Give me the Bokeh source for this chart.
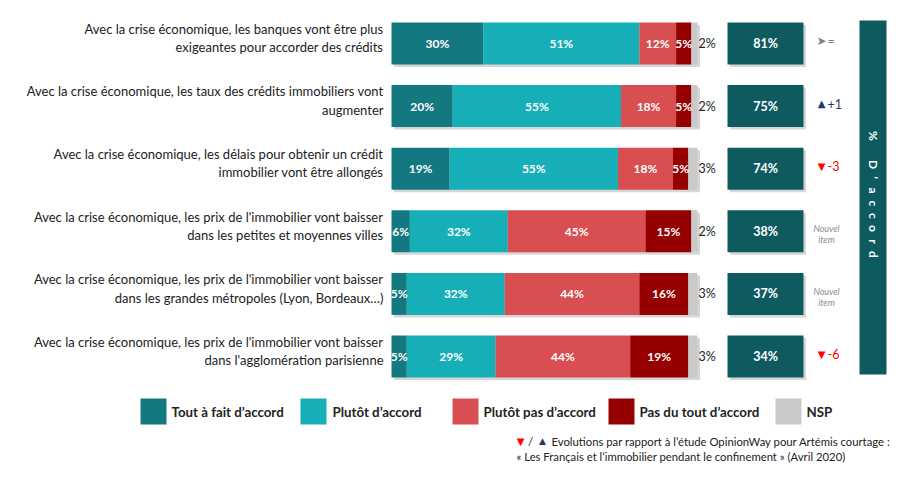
import numpy as np
from bokeh.plotting import figure
from bokeh.models import Range1d
from bokeh.core.properties import value
from bokeh.embed import file_html
from bokeh.resources import INLINE

# ---------------- data ----------------
labels = [
    "Avec la crise économique, les banques vont être plus\nexigeantes pour accorder des crédits",
    "Avec la crise économique, les taux des crédits immobiliers vont\naugmenter",
    "Avec la crise économique, les délais pour obtenir un crédit\nimmobilier vont être allongés",
    "Avec la crise économique, les prix de l'immobilier vont baisser\ndans les petites et moyennes villes",
    "Avec la crise économique, les prix de l'immobilier vont baisser\ndans les grandes métropoles (Lyon, Bordeaux…)",
    "Avec la crise économique, les prix de l'immobilier vont baisser\ndans l'agglomération parisienne",
]
series_names = ["Tout à fait d’accord", "Plutôt d’accord", "Plutôt pas d’accord",
                "Pas du tout d’accord", "NSP"]
tout_a_fait = [30, 20, 19, 6, 5, 5]
plutot = [51, 55, 55, 32, 32, 29]
plutot_pas = [12, 18, 18, 45, 44, 44]
pas_du_tout = [5, 5, 5, 15, 16, 19]
nsp = [2, 2, 3, 2, 3, 3]
totals = [81, 75, 74, 38, 37, 34]
evolutions = [0, 1, -3, None, None, -6]
total_title = "% D’accord"
footnote_1 = "Evolutions par rapport à l’étude OpinionWay pour Artémis courtage :"
footnote_2 = "« Les Français et l’immobilier pendant le confinement » (Avril 2020)"

# ---------------- styles / layout ----------------
colors = ["#137880", "#16AFB8", "#D94F51", "#960000", "#C9C9C9"]
label_colors = ["white", "white", "white", "white", "#222222"]
dark = "#0D5B5F"
txt = "#222222"
FONT = value("Lato")

W, H = 899, 464
X0, S = 391.0, 3.06      # px of 0 %, px per %
Y0, R = 43.0, 62.6       # px of first row centre, px per row


def fx(px):
    return (px - X0) / S


def fy(py):
    return (py - Y0) / R


p = figure(width=W, height=H, x_range=Range1d(-X0 / S, (W - X0) / S),
           y_range=Range1d((H - Y0) / R, -Y0 / R),
           output_backend="svg", toolbar_location=None, min_border=0)
p.axis.visible = False
p.grid.visible = False
p.outline_line_color = None
p.background_fill_color = "white"
p.border_fill_color = "white"

rows = np.arange(len(labels))
data = np.array([tout_a_fait, plutot, plutot_pas, pas_du_tout, nsp], dtype=float)
cum = np.cumsum(data, axis=0)
lefts = cum - data
bar_h = 42 / R
sx = 2.5 / S
sy = 2.5 / R

# shadows
p.hbar(y=rows + sy, left=sx, right=cum[-1] + sx, height=bar_h,
       fill_color="#BBBBBB", fill_alpha=0.6, line_color=None)
p.hbar(y=rows + sy, left=fx(727) + sx, right=fx(803) + sx, height=bar_h,
       fill_color="#BBBBBB", fill_alpha=0.6, line_color=None)

# stacked bars
for k in range(len(series_names)):
    p.hbar(y=rows, left=lefts[k], right=cum[k], height=bar_h,
           fill_color=colors[k], line_color=None)

# segment labels
for k in range(4):
    p.text(x=(lefts[k] + cum[k]) / 2, y=rows,
           text=[f"{int(v)}%" for v in data[k]],
           text_align="center", text_baseline="middle",
           text_font=FONT, text_font_style="bold", text_font_size="12px",
           text_color=label_colors[k])
p.text(x=cum[-1] + 0.3, y=rows, text=[f"{v}%" for v in nsp],
       text_align="left", text_baseline="middle",
       text_font=FONT, text_font_size="12.5px", text_color=txt)

# row labels
p.text(x=[fx(383)] * len(labels), y=rows - 5.5 / R, text=labels,
       text_align="right", text_baseline="middle", text_font=FONT,
       text_font_size="13px", text_line_height=1.15, text_color=txt)

# total boxes
p.hbar(y=rows, left=fx(727), right=fx(803), height=bar_h,
       fill_color=dark, line_color=None)
p.text(x=[fx(765)] * len(totals), y=rows, text=[f"{t}%" for t in totals],
       text_align="center", text_baseline="middle", text_font=FONT,
       text_font_style="bold", text_font_size="12.5px", text_color="white")

# evolutions
for i, ev in enumerate(evolutions):
    if ev is None:
        p.text(x=[fx(826)], y=[i + 3 / R], text=["Nouvel\nitem"],
               text_align="center", text_baseline="middle", text_font=FONT,
               text_font_style="italic", text_font_size="9px",
               text_line_height=1.0, text_color="#8C8C8C")
        continue
    if ev == 0:
        sym, s_col, lab, l_col, fs = "➤", "#7F7F7F", "=", "#7F7F7F", "12px"
    elif ev > 0:
        sym, s_col, lab, l_col, fs = "▲", "#1F3A64", f"+{ev}", "#1F3A64", "10px"
    else:
        sym, s_col, lab, l_col, fs = "▼", "#FF0000", f"{ev}", "#FF0000", "10px"
    p.text(x=[fx(821)], y=[i - 2.5 / R], text=[sym], text_align="center",
           text_baseline="middle", text_font=value("DejaVu Sans"),
           text_font_size=fs, text_color=s_col)
    p.text(x=[fx(827)], y=[i - 2.5 / R], text=[lab], text_align="left",
           text_baseline="middle", text_font=FONT,
           text_font_size="12.5px", text_color=l_col)

# vertical band
p.quad(left=fx(859), right=fx(886), top=fy(20), bottom=fy(374),
       fill_color=dark, line_color=None)
chars = list(total_title.replace(" ", ""))
char_y = [135.5, 164, 177, 190, 203, 215.5, 228, 241, 254]
p.text(x=[fx(872.5)] * len(chars), y=[fy(v) for v in char_y], text=chars,
       angle=-np.pi / 2, text_align="center", text_baseline="middle",
       text_font=FONT, text_font_style="bold", text_font_size="12px",
       text_color="white")

# legend
sq_x = [140, 300, 452, 608, 775]
tx_x = [171, 332, 483, 639, 806]
for k, name in enumerate(series_names):
    p.quad(left=fx(sq_x[k]), right=fx(sq_x[k] + 26), top=fy(398),
           bottom=fy(424), fill_color=colors[k], line_color=None)
    p.text(x=[fx(tx_x[k])], y=[fy(411)], text=[name], text_align="left",
           text_baseline="middle", text_font=FONT, text_font_style="bold",
           text_font_size="13.3px", text_color=txt)

# footnote
p.text(x=[fx(520)], y=[fy(441)], text=["▼"], text_align="center",
       text_baseline="middle", text_font=value("DejaVu Sans"),
       text_font_size="10px", text_color="#FF0000")
p.text(x=[fx(530)], y=[fy(441)], text=["/"], text_align="center",
       text_baseline="middle", text_font=FONT, text_font_size="11.4px",
       text_color=txt)
p.text(x=[fx(542)], y=[fy(440)], text=["▲"], text_align="center",
       text_baseline="middle", text_font=value("DejaVu Sans"),
       text_font_size="9px", text_color="#1F3A64")
p.text(x=[fx(551)], y=[fy(441)], text=[footnote_1], text_align="left",
       text_baseline="middle", text_font=FONT, text_font_size="11.3px",
       text_color=txt)
p.text(x=[fx(516)], y=[fy(456)], text=[footnote_2], text_align="left",
       text_baseline="middle", text_font=FONT, text_font_size="11.3px",
       text_color=txt)

open("out.html", "w").write(file_html(p, INLINE))
